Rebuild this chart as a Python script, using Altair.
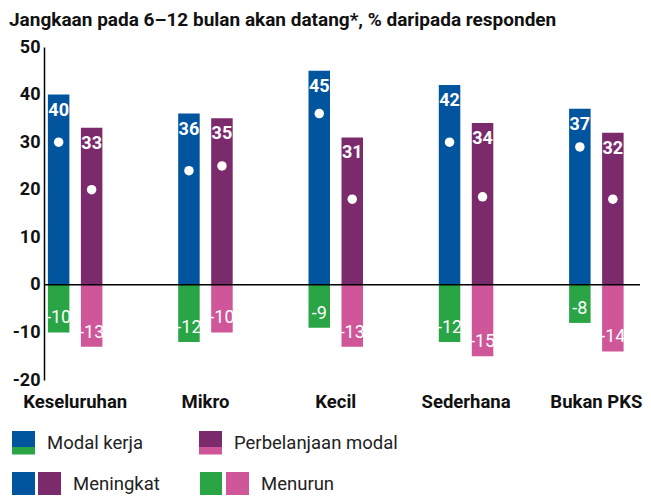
import altair as alt
import pandas as pd

FONT = "Roboto"
BLUE, PURPLE, GREEN, PINK = "#00559E", "#7B2A6C", "#29A545", "#CF5699"

cats = ["Keseluruhan", "Mikro", "Kecil", "Sederhana", "Bukan PKS"]
series = ["Modal kerja", "Perbelanjaan modal"]

up_mk = [40, 36, 45, 42, 37]
up_pm = [33, 35, 31, 34, 32]
down_mk = [-10, -12, -9, -12, -8]
down_pm = [-13, -10, -13, -15, -14]
net_mk = [30, 24, 36, 30, 29]
net_pm = [20, 25, 18, 18.5, 18]

title_text = "Jangkaan pada 6\u201312 bulan akan datang*, % daripada responden"

rows, nets = [], []
for i, c in enumerate(cats):
    for s, ups, downs, ns in [(series[0], up_mk, down_mk, net_mk),
                              (series[1], up_pm, down_pm, net_pm)]:
        rows.append(dict(cat=c, series=s, dir="Meningkat", key=s + "|Meningkat",
                         value=ups[i], label=str(ups[i])))
        rows.append(dict(cat=c, series=s, dir="Menurun", key=s + "|Menurun",
                         value=downs[i], label=str(downs[i])))
        nets.append(dict(cat=c, series=s, net=ns[i]))
df = pd.DataFrame(rows)
net_df = pd.DataFrame(nets)
zero_df = pd.DataFrame({"zero": [0]})

color_domain = [series[0] + "|Meningkat", series[1] + "|Meningkat",
                series[0] + "|Menurun", series[1] + "|Menurun"]
color_range = [BLUE, PURPLE, GREEN, PINK]

x_enc = alt.X("cat:N", sort=cats,
              scale=alt.Scale(range=[-34, 617.5], paddingInner=0.5817, paddingOuter=0.2908),
              axis=alt.Axis(title=None, labelAngle=0, domain=False, ticks=False,
                            labelPadding=12, labelFont=FONT, labelFontSize=18.5,
                            labelFontWeight="bold", labelColor="#111"))
xoff = alt.XOffset("series:N", sort=series,
                   scale=alt.Scale(paddingInner=0.3485, paddingOuter=0))
y_scale = alt.Scale(domain=[-20, 50], nice=False, zero=False)
y_axis = alt.Axis(values=list(range(-20, 51, 10)), title=None, grid=False, ticks=False,
                  domainColor="#000", domainWidth=1.5, labelFont=FONT, labelFontSize=18,
                  labelFontWeight="bold", labelColor="#111", labelPadding=4,
                  labelExpr="'' + datum.value")

base = alt.Chart(df)
bars = base.mark_bar().encode(
    x=x_enc, xOffset=xoff,
    y=alt.Y("value:Q", scale=y_scale, axis=y_axis),
    y2=alt.datum(0),
    color=alt.Color("key:N", scale=alt.Scale(domain=color_domain, range=color_range), legend=None),
)
pos_text = base.transform_filter(alt.datum.dir == "Meningkat").mark_text(
    font=FONT, fontSize=18, fontWeight="bold", color="white", baseline="alphabetic", dy=21
).encode(x=x_enc, xOffset=xoff, y=alt.Y("value:Q", scale=y_scale), text="label:N")
neg_text = base.transform_filter(alt.datum.dir == "Menurun").mark_text(
    font=FONT, fontSize=18, fontWeight="normal", color="white", baseline="alphabetic", dy=-9
).encode(x=x_enc, xOffset=xoff, y=alt.Y("value:Q", scale=y_scale), text="label:N")
dots = alt.Chart(net_df).mark_circle(size=90, color="white", opacity=1).encode(
    x=x_enc, xOffset=xoff, y=alt.Y("net:Q", scale=y_scale))
zero_rule = alt.Chart(zero_df).mark_rule(color="#000", strokeWidth=1.5).encode(
    y=alt.Y("zero:Q", scale=y_scale))

main = alt.layer(bars, pos_text, neg_text, dots, zero_rule)

# legend, placed below the plot (legend units = pixels from the plot's left edge / legend top)
leg_labels = ["Modal kerja", "Perbelanjaan modal", "Meningkat", "Menurun"]
leg_text_x = [3, 190, 29, 217]
leg_text_y = [23, 23, 64, 64]
sw_x = [-32, 155, -32, 155, -32, -6, 156, 182]
sw_x2 = [-9, 178, -9, 178, -9, 17, 178, 205]
sw_y = [11, 11, 27, 27, 52, 52, 52, 52]
sw_y2 = [27, 27, 34.5, 34.5, 75, 75, 75, 75]
sw_col = [BLUE, PURPLE, GREEN, PINK, BLUE, PURPLE, GREEN, PINK]

sw_df = pd.DataFrame(dict(x=sw_x, x2=sw_x2, y=sw_y, y2=sw_y2, c=sw_col))
lt_df = pd.DataFrame(dict(x=leg_text_x, y=leg_text_y, t=leg_labels))
lx = alt.Scale(domain=[0, 596], nice=False, zero=False)
ly = alt.Scale(domain=[0, 75], range=[373, 448], nice=False, zero=False)
sw = alt.Chart(sw_df).mark_rect().encode(
    x=alt.X("x:Q", scale=lx, axis=None), x2="x2:Q",
    y=alt.Y("y:Q", scale=ly, axis=None), y2="y2:Q",
    fill=alt.Fill("c:N", scale=None, legend=None))
lt = alt.Chart(lt_df).mark_text(font=FONT, fontSize=18.5, color="#222", align="left",
                                 baseline="middle").encode(
    x=alt.X("x:Q", scale=lx, axis=None), y=alt.Y("y:Q", scale=ly, axis=None), text="t:N")
legend = alt.layer(sw, lt)

chart = alt.layer(main, legend).resolve_scale(x="independent", y="independent").properties(
    width=596, height=333,
    title=alt.Title(title_text, anchor="start", fontSize=19, font=FONT, fontWeight="bold",
                    color="#111", offset=8, dx=-3),
    padding={"left": 36, "top": 39, "right": 3, "bottom": 115},
    autosize=alt.AutoSizeParams(type="none"),
).configure_view(stroke=None)

chart.save("out.html", embed_options={"renderer": "svg", "actions": False})
